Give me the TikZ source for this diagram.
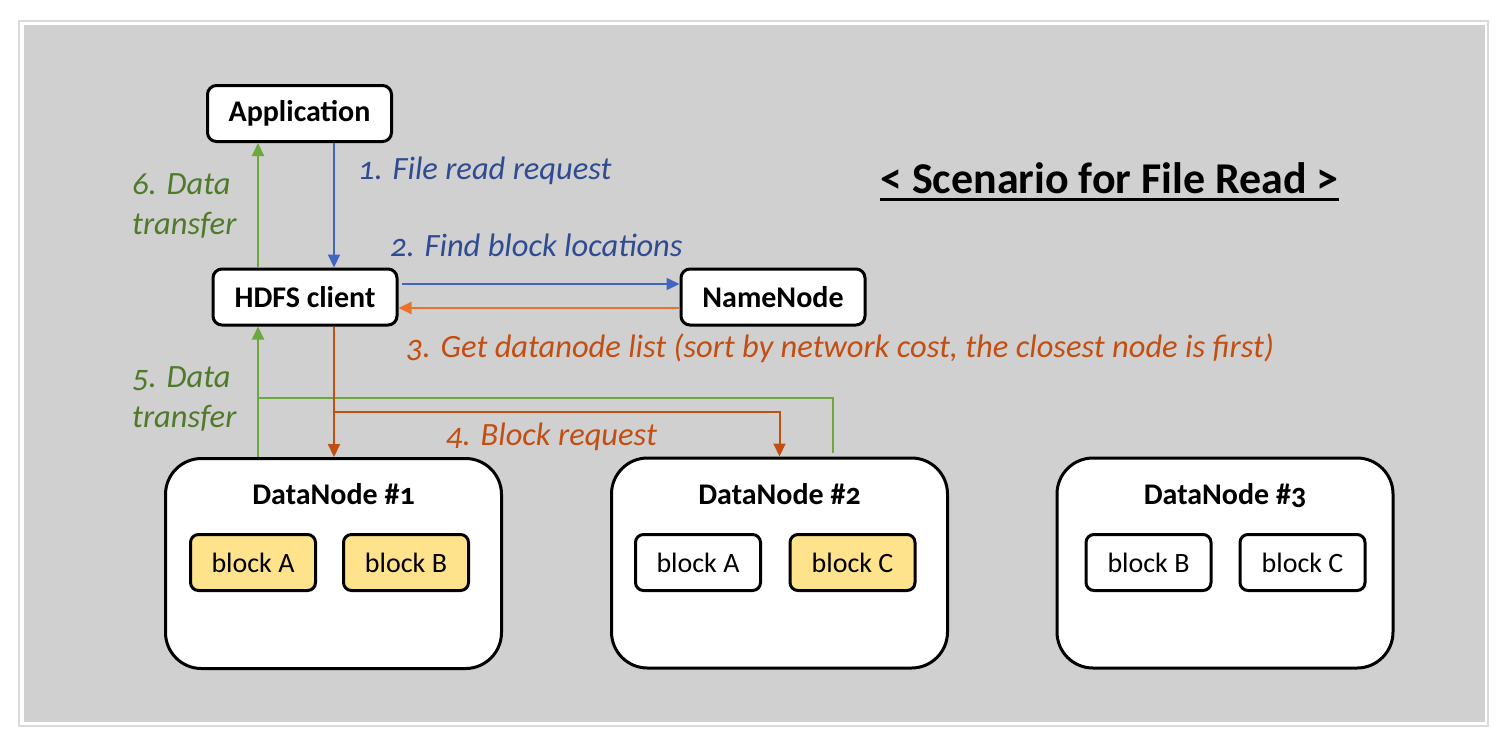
\documentclass[tikz,border=0pt]{standalone}
\usepackage{fontspec}
\setmainfont{Carlito}[Numbers=OldStyle]
\usetikzlibrary{arrows.meta}
\definecolor{bgGray}{HTML}{D0D0D0}
\definecolor{frameGray}{HTML}{DADADA}
\definecolor{blockYellow}{HTML}{FFE28C}
\definecolor{reqBlue}{HTML}{4166C2}
\definecolor{reqBlueText}{HTML}{2F4B92}
\definecolor{listOrange}{HTML}{E8732E}
\definecolor{blkOrange}{HTML}{C24E12}
\definecolor{xferGreen}{HTML}{6BA83E}
\definecolor{xferGreenText}{HTML}{4E7A2A}

\begin{document}
\begin{tikzpicture}[x=1pt,y=-1pt,
    box/.style={draw,line width=3pt,rounded corners=9pt,fill=white,inner sep=0pt,
        minimum width=184pt,minimum height=56pt,font=\fontsize{30}{34}\selectfont\bfseries},
    dnbox/.style={draw,line width=3pt,rounded corners=36pt,fill=white,inner sep=0pt,
        minimum width=336pt,minimum height=210pt},
    dntitle/.style={anchor=base,inner sep=0pt,font=\fontsize{30}{34}\selectfont\bfseries},
    blk/.style={draw,line width=3pt,rounded corners=8pt,fill=white,inner sep=0pt,
        minimum width=125pt,minimum height=56pt,font=\fontsize{28}{32}\selectfont},
    hot/.style={blk,fill=blockYellow},
    lbl/.style={anchor=base west,inner sep=0pt,font=\fontsize{32.5}{40}\selectfont\itshape},
    link/.style={line width=2pt,-{Triangle[length=13pt,width=12pt]}},
    plain/.style={line width=2pt}]
    \useasboundingbox (0,0) rectangle (1506,740);
    \draw[frameGray,line width=2pt,fill=white] (19,21) rectangle (1488,726);
    \fill[bgGray] (24,25) rectangle (1485,722);

    \node[box] (app) at (299.5,113.5) {Application};
    \node[box] (hdfs) at (305,297) {HDFS client};
    \node[box] (nn) at (773,297) {NameNode};

    \node[dnbox] (dn1) at (333.5,563.5) {};
    \node[dnbox] (dn2) at (779.5,563) {};
    \node[dnbox] (dn3) at (1225,563) {};

    \node[dntitle] (t1) at (333.5,504) {DataNode \#1};
    \node[dntitle] (t2) at (779.5,504) {DataNode \#2};
    \node[dntitle] (t3) at (1225,504) {DataNode \#3};

    \node[hot] (a1) at (253,562.5) {block A};
    \node[hot] (b1) at (406,562.5) {block B};
    \node[blk] (a2) at (698,562.5) {block A};
    \node[hot] (c2) at (852.5,562.5) {block C};
    \node[blk] (b3) at (1148.5,562.5) {block B};
    \node[blk] (c3) at (1302.5,562.5) {block C};

    \coordinate (up) at (258,0);
    \coordinate (down) at (334,0);
    \coordinate (back2) at (833,0);
    \coordinate (ask) at (0,284);
    \coordinate (list) at (0,308);
    \coordinate (xfer) at (0,398);
    \coordinate (req) at (0,412);

    \draw[link,reqBlue] (app.south -| down) -- (hdfs.north -| down);
    \draw[link,xferGreen] (hdfs.north -| up) -- (app.south -| up);
    \draw[link,reqBlue,shorten <=3pt] (hdfs.east |- ask) -- (nn.west |- ask);
    \draw[link,listOrange] (nn.west |- list) -- (hdfs.east |- list);
    \draw[link,xferGreen] (dn1.north -| up) -- (hdfs.south -| up);
    \draw[plain,xferGreen,shorten <=4pt] (dn2.north -| back2) -- (back2 |- xfer) -- (up |- xfer);
    \draw[link,blkOrange] (hdfs.south -| down) -- (dn1.north -| down);
    \draw[link,blkOrange] (down |- req) -- (dn2.north |- req) -- (dn2.north);

    \node[lbl,reqBlueText] (l1) at (358,179) {1. File read request};
    \node[lbl,reqBlueText] (l2) at (390,256) {2. Find block locations};
    \node[lbl,blkOrange] (l3) at (406,357) {3. Get datanode list (sort by network cost, the closest node is first)};
    \node[lbl,blkOrange] (l4) at (446,445) {4. Block request};
    \node[lbl,xferGreenText,align=left] (l6) at (132,234) {6. Data\\transfer};
    \node[lbl,xferGreenText,align=left] (l5) at (132,427) {5. Data\\transfer};

    \node[anchor=base west,inner sep=0pt,font=\fontsize{44}{48}\selectfont\bfseries] (title) at (880,193) {< Scenario for File Read >};
    \draw[line width=2.5pt] (880,199.5) -- (title.east |- 0,199.5);
\end{tikzpicture}
\end{document}
